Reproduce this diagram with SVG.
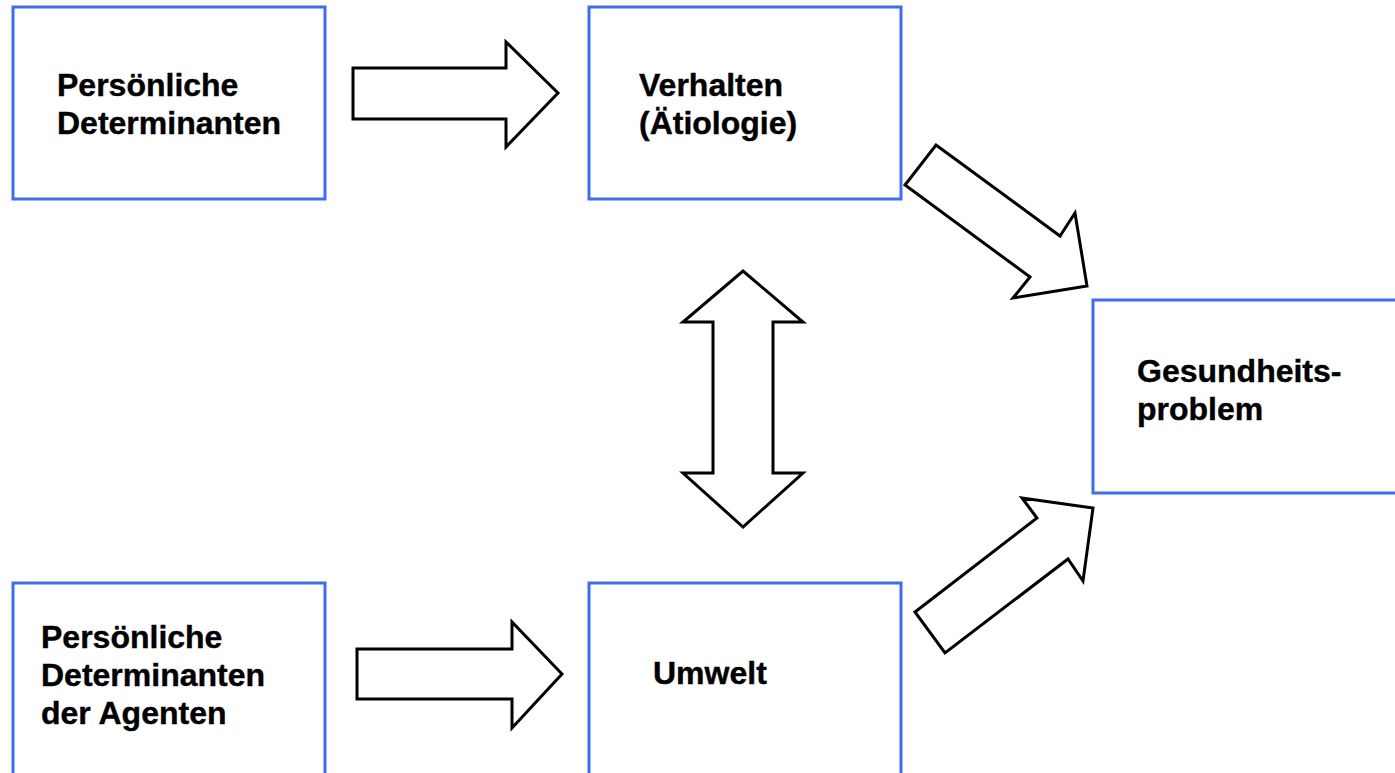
<svg xmlns="http://www.w3.org/2000/svg" width="1395" height="773" viewBox="0 0 1395 773">
<style>
.box{fill:#ffffff;stroke:#3d6bff;stroke-width:3}
.lbl{font-family:"Liberation Sans",Arial,sans-serif;font-weight:bold;font-size:32px;fill:#000000;stroke:#000000;stroke-width:0.4}
.arr{fill:#ffffff;stroke:#000000;stroke-width:3;stroke-linejoin:miter}
</style>
<rect width="1395" height="773" fill="#ffffff"/>
<g id="node-persoenliche-determinanten">
<rect class="box" x="13" y="7" width="312" height="192"/>
<text class="lbl" x="57" y="96">Persönliche</text>
<text class="lbl" x="57" y="134">Determinanten</text>
</g>
<g id="node-verhalten">
<rect class="box" x="589" y="7" width="312" height="192"/>
<text class="lbl" x="639" y="96">Verhalten</text>
<text class="lbl" x="639" y="134">(Ätiologie)</text>
</g>
<g id="node-gesundheitsproblem">
<rect class="box" x="1093" y="300" width="320" height="193"/>
<text class="lbl" x="1137" y="382">Gesundheits-</text>
<text class="lbl" x="1137" y="420">problem</text>
</g>
<g id="node-persoenliche-determinanten-agenten">
<rect class="box" x="13" y="583" width="312" height="210"/>
<text class="lbl" x="41" y="648">Persönliche</text>
<text class="lbl" x="41" y="686">Determinanten</text>
<text class="lbl" x="41" y="724">der Agenten</text>
</g>
<g id="node-umwelt">
<rect class="box" x="589" y="583" width="312" height="210"/>
<text class="lbl" x="653" y="684">Umwelt</text>
</g>
<g id="connectors">
<polygon class="arr" points="353,68 506,68 506,42 558,93 506,147 506,119 353,119"/>
<polygon class="arr" points="357,649 512,649 512,622 562,674 512,728 512,699 357,699"/>
<polygon class="arr" points="936,145 1060,236 1075,213 1087,286 1013,298 1030,277 905,185"/>
<polygon class="arr" points="915,612 1037,518 1022,498 1093,508 1083,581 1068,559 945,653"/>
<polygon class="arr" points="743,271 803,322 773,322 773,473 803,473 743,527 683,473 713,473 713,322 683,322"/>
</g>
</svg>
